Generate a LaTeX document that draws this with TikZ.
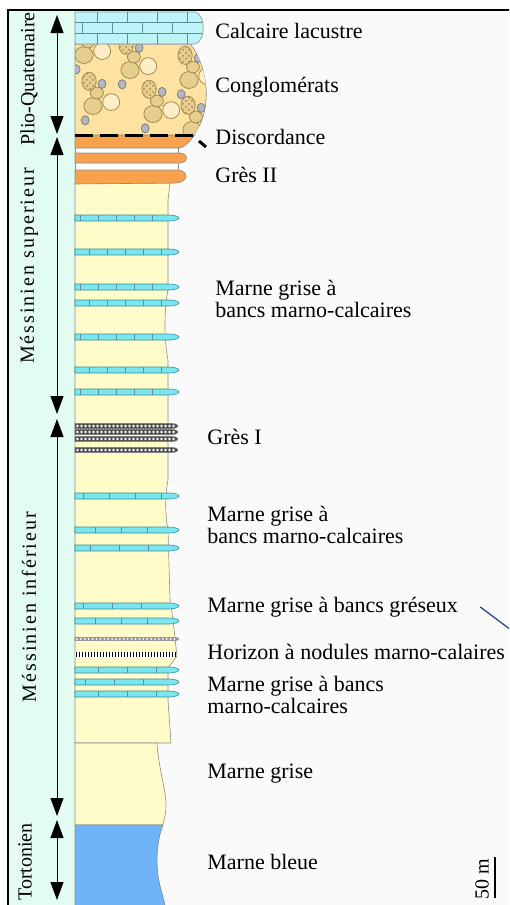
\documentclass[tikz,border=0pt]{standalone}
\usepackage{fontspec}
\setmainfont{Liberation Serif}
\newfontfamily\espace[LetterSpace=10]{Liberation Serif}
\usepackage{tikz}
\usetikzlibrary{arrows.meta,patterns,positioning}

\definecolor{fond}{HTML}{FAFAFA}
\definecolor{bande}{HTML}{E2FCF2}
\definecolor{calc}{HTML}{BDF4F7}
\definecolor{brique}{HTML}{5E8E9C}
\definecolor{congl}{HTML}{FDE2A2}
\definecolor{galet}{HTML}{E6CE8E}
\definecolor{galetbord}{HTML}{A88A4E}
\definecolor{gravier}{HTML}{B4B6C0}
\definecolor{gres}{HTML}{F9A24E}
\definecolor{marne}{HTML}{FFFCC9}
\definecolor{bleue}{HTML}{6FB3F9}
\definecolor{banc}{HTML}{7AE6F0}
\definecolor{bancbord}{HTML}{3A8A98}
\definecolor{trait}{HTML}{1C3A8C}

% one cluster of pebbles, centred on the big one
\newcommand{\galets}[2]{%
  \begin{scope}[shift={(#1,#2)},scale=1.3]
  \filldraw[fill=congl!60!white,draw=galetbord] (14,-3) ellipse (6.5 and 6.5);
  \filldraw[fill=galet,draw=galetbord] (0,0) ellipse (7 and 6.5);
  \filldraw[fill=galet,draw=galetbord] (3,-10) ellipse (5 and 4.5);
  \filldraw[fill=galet,draw=galetbord] (-3,-19) ellipse (5.5 and 7);
  \fill[pattern=crosshatch dots,pattern color=galetbord] (-3,-19) ellipse (5.5 and 7);
  \filldraw[fill=gravier,draw=gray] (-6,11) ellipse (3 and 3.5);
  \filldraw[fill=gravier,draw=gray] (7,-17) ellipse (3 and 3.5);
  \end{scope}
}

\begin{document}
\begin{tikzpicture}[x=0.5pt,y=-0.5pt]
\tikzstyle{contour}=[draw=black!45,line width=0.3pt]
\tikzstyle{legende}=[anchor=west,inner sep=0pt,align=left,font=\fontsize{11}{10}\selectfont]
\tikzstyle{etage}=[rotate=90,inner sep=0pt,font=\fontsize{10}{10}\selectfont]
\tikzstyle{duree}=[{Triangle[width=6.5pt,length=9pt]}-{Triangle[width=6.5pt,length=9pt]},line width=0.5pt]

\useasboundingbox (0,0) rectangle (509,905);
\clip (0,0) rectangle (509,905);

% frame and stage band
\draw[fill=fond,line width=1pt] (8,10) rectangle (540,940);
\fill[bande] (8.5,10.5) rectangle (75,940);

% marls
\filldraw[fill=marne,contour] (75,183) -- (170,183) -- (168,200) -- (168,290)
  .. controls (164,310) and (164,340) .. (168,360) -- (168,480)
  .. controls (165,495) and (165,515) .. (168,530) -- (170,600) -- (173,620)
  -- (177,656) -- (168,668) -- (168,700) -- (171,743) -- (75,743) -- cycle;
\filldraw[fill=marne,contour] (75,743) -- (157,743)
  .. controls (158,765) and (166,790) .. (166,805)
  .. controls (166,815) and (164,820) .. (163,825) -- (75,825) -- cycle;
\filldraw[fill=bleue,contour] (75,825) -- (163,825)
  .. controls (157,840) and (156,860) .. (158,875)
  .. controls (160,890) and (165,900) .. (166,912) -- (75,912) -- cycle;

% limestone beds
\foreach \y/\d/\o in {218/18/5,252/18/14,287/18/5,303/18/14,337/18/5,370/18/14,392/18/5,
                      496/26/8,530/26/20,548/29/15,606/29/8,621/26/20,670/29/23,682/29/10,694/29/23} {
  \filldraw[fill=banc,draw=bancbord,line width=0.3pt] (75,\y-3) -- (168,\y-3)
    .. controls (176,\y-3) and (179,\y-1) .. (179,\y)
    .. controls (179,\y+1) and (176,\y+3) .. (168,\y+3) -- (75,\y+3) -- cycle;
  \begin{scope}
    \clip (75,\y-3) rectangle (166,\y+3);
    \foreach \k in {0,...,7}
      \draw[brique,line width=0.4pt] (75+\o+\k*\d,\y-3) -- ++(0,6);
  \end{scope}
}

% sandstone beds (Gres I)
\foreach \y in {426,432,439,450} {
  \filldraw[fill=black!70,draw=black!50,line width=0.3pt] (75,\y-2.5) -- (172,\y-2.5)
    .. controls (177,\y-2.5) and (178,\y) .. (178,\y)
    .. controls (178,\y) and (177,\y+2.5) .. (172,\y+2.5) -- (75,\y+2.5) -- cycle;
  \foreach \x in {0,...,24}
    \fill[white] (77.5+\x*4,\y) circle (1.3);
}

% sandy bed and nodule horizon
\filldraw[fill=black!40,draw=black!40,line width=0.3pt] (75,637.5) -- (176,637.5)
  .. controls (178,637.5) and (179,639) .. (179,639)
  .. controls (179,639) and (178,640.5) .. (176,640.5) -- (75,640.5) -- cycle;
\foreach \x in {0,...,25}
  \fill[white] (77+\x*3.9,639) circle (1);
\fill[white] (75,651.5) rectangle (176,656.5);
\foreach \x in {0,...,33}
  \draw[line width=0.7pt] (76.5+\x*3,651.5) -- ++(0,5);

% Gres II
\filldraw[fill=white,contour] (75,147) rectangle (178,171);
\filldraw[fill=gres,contour] (75,135) -- (195,135)
  .. controls (190,141) and (186,146) .. (180,148) -- (75,148) -- cycle;
\filldraw[fill=gres,contour] (75,153) -- (180,153)
  .. controls (189,154) and (189,162) .. (180,163) -- (75,163) -- cycle;
\filldraw[fill=gres,contour] (75,170) -- (178,170)
  .. controls (189,171) and (189,182) .. (176,183) -- (75,184) -- cycle;

% conglomerates
\filldraw[fill=congl,contour] (75,44) -- (190,44)
  .. controls (200,55) and (208,80) .. (206,100)
  .. controls (205,115) and (200,128) .. (193,135) -- (75,135) -- cycle;
\begin{scope}
  \clip (75,44) -- (190,44)
    .. controls (200,55) and (208,80) .. (206,100)
    .. controls (205,115) and (200,128) .. (193,135) -- (75,135) -- cycle;
  \galets{93}{106}
  \galets{130}{70}
  \galets{153}{114}
  \galets{189}{80}
  \galets{192}{130}
  \galets{84}{55}
\end{scope}

% lacustrine limestone
\filldraw[fill=calc,contour] (75,12) -- (195,12)
  .. controls (206,14) and (206,42) .. (195,44) -- (75,44) -- cycle;
\begin{scope}
  \clip (75,12) -- (195,12) .. controls (206,14) and (206,42) .. (195,44) -- (75,44) -- cycle;
  \draw[brique,line width=0.4pt] (75,22.7) -- (210,22.7) (75,33.3) -- (210,33.3);
  \foreach \x in {97,127,157,187} {
    \draw[brique,line width=0.4pt] (\x,12) -- (\x,22.7);
    \draw[brique,line width=0.4pt] (\x,33.3) -- (\x,44);
    \draw[brique,line width=0.4pt] (\x-15,22.7) -- (\x-15,33.3);
  }
\end{scope}

% unconformity
\draw[line width=1.5pt,dash pattern=on 9pt off 3.5pt] (75,135) -- (196,135);
\draw[line width=1.5pt] (199,141) -- (206,147);

% stages
\coordinate (plio-h) at (57,15);   \coordinate (plio-b) at (57,134);
\coordinate (msup-h) at (57,137);  \coordinate (msup-b) at (57,414);
\coordinate (minf-h) at (57,419);  \coordinate (minf-b) at (57,816);
\coordinate (tort-h) at (57,820);  \coordinate (tort-b) at (57,900);
\draw[duree] (plio-h) -- (plio-b);
\draw[duree] (msup-h) -- (msup-b);
\draw[duree] (minf-h) -- (minf-b);
\draw[duree] (tort-h) -- (tort-b);

\node[etage] (plio) at (29,79) {Plio-Quaternaire};
\node[etage] (msup) at (29,266) {\espace Méssinien superieur};
\node[etage] (minf) at (29,607) {\espace Méssinien inférieur};
\node[etage] (tort) at (25,862) {Tortonien};

% legend of the beds
\node[legende] (calcaire) at (215,31) {Calcaire lacustre};
\node[legende] (conglo) at (215,87) {Conglomérats};
\node[legende] (discord) at (215,137) {Discordance};
\node[legende] (gres2) at (215,175) {Grès II};
\node[legende] (marnesup) at (215,299) {Marne grise à\\bancs marno-calcaires};
\node[legende] (gres1) at (207,437) {Grès I};
\node[legende] (marneinf) at (207,525) {Marne grise à\\bancs marno-calcaires};
\node[legende] (greseux) at (207,607) {Marne grise à bancs gréseux};
\node[legende] (horizon) at (207,652) {Horizon à nodules marno-calaires};
\node[legende] (marnecalc) at (207,695) {Marne grise à bancs\\marno-calcaires};
\node[legende] (marnegrise) at (207,774) {Marne grise};
\node[legende] (marnebleue) at (207,862) {Marne bleue};

\coordinate (sortie) at (515,633);
\draw[trait,line width=0.6pt] ([xshift=11pt]greseux.east) -- (sortie);

% scale bar
\node[etage,font=\fontsize{10}{10}\selectfont] (echelle) at (482,879) {50 m};
\draw[line width=1pt] (495,857) -- (495,898);
\end{tikzpicture}
\end{document}
